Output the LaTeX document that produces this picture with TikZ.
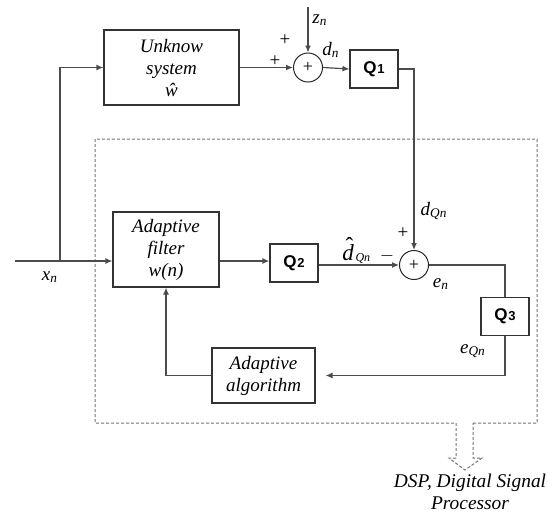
\documentclass[tikz,border=0pt]{standalone}
\usepackage{fontspec}
\setmainfont{Liberation Serif}
\setsansfont{Liberation Sans}
\usetikzlibrary{positioning,arrows.meta}

\newcommand{\sig}[2]{\textit{#1}\textsubscript{\textit{#2}}}
\newcommand{\qname}[1]{Q\kern0.3pt{\fontsize{6.5}{7}\selectfont #1}}
\newcommand{\dhat}{\makebox[0pt][l]{\kern1.6pt\raisebox{3.2pt}{\upshape\char"02C6}}d}

\begin{document}
\begin{tikzpicture}[x=0.5pt,y=-0.5pt,>={Latex[length=3.5pt,width=3pt]},
  block/.style={draw=black!80,line width=0.6pt,align=center,inner sep=0pt,
    font=\fontsize{9.5}{11}\selectfont\itshape},
  qblock/.style={draw=black!80,line width=0.6pt,minimum width=24pt,minimum height=19pt,
    inner sep=0pt,font=\fontsize{8.5}{10}\selectfont\sffamily\bfseries},
  summer/.style={circle,draw=black!85,line width=0.5pt,minimum size=14.5pt,inner sep=0pt,
    font=\fontsize{9}{9}\selectfont},
  lbl/.style={inner sep=0pt,font=\fontsize{9.5}{11}\selectfont},
  wire/.style={draw=black!70,line width=0.6pt}]
\useasboundingbox (0,0) rectangle (556,515);

% DSP boundary with its hollow arrow
\draw[black!55,line width=0.5pt,dash pattern=on 1.5pt off 1pt]
  (473,423) -- (537,423) -- (537,139) -- (95,139) -- (95,423) -- (456,423)
  -- (456,458) -- (449,458) -- (465,470) -- (482,458) -- (473,458) -- cycle;
\node[lbl,align=center,font=\fontsize{9.7}{11}\selectfont\itshape] (dsp) at (470,492)
  {DSP, Digital Signal\\Processor};

% blocks
\node[block,minimum width=67.5pt,minimum height=37.5pt] (sys) at (171.5,67.5) {Unknow\\system\\ŵ};
\node[summer] (sum1) at (308,67.5) {+};
\node[qblock] (q1) at (374,69) {\qname{1}};
\node[block,minimum width=53pt,minimum height=37.5pt] (filt) at (166,249.5) {Adaptive\\filter\\w(n)};
\node[qblock] (q2) at (294,263) {\qname{2}};
\node[summer] (sum2) at (414,265) {+};
\node[qblock] (q3) at (505,316.5) {\qname{3}};
\node[block,minimum width=51.5pt,minimum height=27.5pt] (alg) at (263.5,375.5) {Adaptive\\algorithm};

% inputs
\coordinate (xin) at (15,261);
\coordinate (br) at (60,261);
\coordinate (zin) at (308,7);

% connectors
\draw[wire,->] (xin) -- (xin -| filt.west);
\draw[wire,->] (br) |- (sys.west);
\draw[wire,->] (sys.east) -- (sum1.west);
\draw[wire,->] (zin) -- (sum1.north);
\draw[wire,->] (sum1.east) -- (q1.west);
\draw[wire,->] (q1.east) -| (sum2.north);
\draw[wire,->] (xin -| filt.east) -- (xin -| q2.west);
\draw[wire,->] (q2.east |- sum2) -- (sum2.west);
\draw[wire] (sum2.east) -| (q3.north);
\draw[wire,->,shorten >=5pt] (q3.south) |- (alg.east);
\draw[wire,->] (alg.west) -| (filt.south);

% signal labels
\node[lbl] (lx) at (50,277) {\sig{x}{n}};
\node[lbl] (lz) at (320,20) {\sig{z}{n}};
\node[lbl] (lp1) at (285,40) {+};
\node[lbl] (lp2) at (275,61) {+};
\node[lbl] (ld) at (331,50) {\sig{d}{n}};
\node[lbl] (ldq) at (434,211) {\textit{d}\textsubscript{\textit{Qn}}};
\node[lbl] (lp3) at (403,233) {+};
\node[lbl] (lm) at (387,256) {$-$};
\node[lbl,anchor=base west,font=\fontsize{11.5}{12}\selectfont\itshape] (ldh) at (342,260)
  {\dhat\kern0.8pt\raisebox{-0.8pt}{\fontsize{6}{6}\selectfont Qn}};
\node[lbl] (le) at (441,284) {\sig{e}{n}};
\node[lbl] (leq) at (473,351) {\textit{e}\textsubscript{\textit{Qn}}};
\end{tikzpicture}
\end{document}
